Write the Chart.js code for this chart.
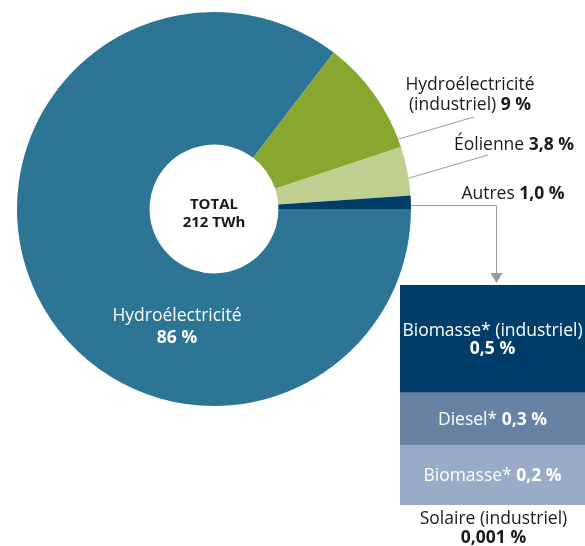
<!DOCTYPE html>
<html>
<head>
<meta charset="utf-8">
<script src="https://cdn.jsdelivr.net/npm/chart.js@4"></script>
<style>
  body { margin: 0; background: #fff; }
  #wrap { position: relative; width: 585px; height: 546px; }
  canvas { position: absolute; }
</style>
</head>
<body>
<div id="wrap">
  <canvas id="pie" width="585" height="546" style="left:0;top:0"></canvas>
  <canvas id="detail" width="185" height="261" style="left:400px;top:285px"></canvas>
</div>
<script>
// parts de la production (%)
const pieCategories = ["Hydroélectricité", "Hydroélectricité (industriel)", "Éolienne", "Autres"];
const pieShares = [85.4, 9.5, 4.0, 1.1];
const pieLabels = ["86 %", "9 %", "3,8 %", "1,0 %"];
const pieColors = ["#2c7594", "#87a72f", "#bfcf90", "#003e69"];

// détail de « Autres » (du bas vers le haut)
const autresCategories = ["Solaire (industriel)", "Biomasse*", "Diesel*", "Biomasse* (industriel)"];
const autresShares = [0.001, 0.27, 0.24, 0.49];
const autresLabels = ["0,001 %", "0,2 %", "0,3 %", "0,5 %"];
const autresColors = ["#9aabc7", "#9aabc7", "#6882a4", "#003e69"];

const totalText = ["TOTAL", "212 TWh"];

const FONT = "'Open Sans', sans-serif";
const SIZE = 17.5;
const DARK = "#1a1a1a";
const GREY = "#9a9a9a";

// texte en plusieurs morceaux (normal / gras), centré sur x
function runs(ctx, parts, x, y, size, color) {
  ctx.textBaseline = "alphabetic";
  ctx.textAlign = "left";
  ctx.fillStyle = color;
  let w = 0;
  parts.forEach(p => {
    ctx.font = (p.b ? "bold " : "") + size + "px " + FONT;
    p.w = ctx.measureText(p.t).width;
    w += p.w;
  });
  let cx = x - w / 2;
  parts.forEach(p => {
    ctx.font = (p.b ? "bold " : "") + size + "px " + FONT;
    ctx.fillText(p.t, cx, y);
    cx += p.w;
  });
}

function edgePoint(arc, t) {
  const a = arc.startAngle + (arc.endAngle - arc.startAngle) * t;
  return { x: arc.x + arc.outerRadius * Math.cos(a), y: arc.y + arc.outerRadius * Math.sin(a) };
}

const pieText = {
  id: "pieText",
  afterDraw(chart) {
    const ctx = chart.ctx;
    const arcs = chart.getDatasetMeta(0).data;
    ctx.save();

    // traits de rappel
    ctx.strokeStyle = GREY;
    ctx.lineWidth = 1;
    let p = edgePoint(arcs[1], 0.93);
    ctx.beginPath(); ctx.moveTo(p.x, p.y); ctx.lineTo(474, 117); ctx.stroke();
    p = edgePoint(arcs[2], 0.65);
    ctx.beginPath(); ctx.moveTo(p.x, p.y); ctx.lineTo(488, 155); ctx.stroke();
    p = edgePoint(arcs[3], 0.7);
    ctx.beginPath(); ctx.moveTo(p.x, 205.5); ctx.lineTo(496.5, 205.5); ctx.lineTo(496.5, 274); ctx.stroke();
    ctx.fillStyle = GREY;
    ctx.beginPath(); ctx.moveTo(490.5, 273); ctx.lineTo(502.5, 273); ctx.lineTo(496.5, 283); ctx.closePath(); ctx.fill();

    // étiquettes
    runs(ctx, [{ t: "Hydroélectricité" }], 470, 90, SIZE, DARK);
    runs(ctx, [{ t: "(industriel) " }, { t: pieLabels[1], b: true }], 470, 110, SIZE, DARK);
    runs(ctx, [{ t: pieCategories[2] + " " }, { t: pieLabels[2], b: true }], 514, 150, SIZE, DARK);
    runs(ctx, [{ t: pieCategories[3] + " " }, { t: pieLabels[3], b: true }], 513, 199, SIZE, DARK);
    runs(ctx, [{ t: pieCategories[0] }], 177, 321, SIZE, "#fff");
    runs(ctx, [{ t: pieLabels[0], b: true }], 177, 343, SIZE, "#fff");

    runs(ctx, [{ t: totalText[0], b: true }], arcs[0].x, 209, 15, DARK);
    runs(ctx, [{ t: totalText[1], b: true }], arcs[0].x, 227, 15, DARK);
    ctx.restore();
  }
};

new Chart(document.getElementById("pie"), {
  type: "doughnut",
  data: {
    labels: pieCategories,
    datasets: [{
      data: pieShares,
      backgroundColor: pieColors,
      borderWidth: 0,
      hoverOffset: 0
    }]
  },
  options: {
    responsive: false,
    animation: false,
    rotation: 90,
    cutout: "32.7%",
    layout: { padding: { left: 17, top: 12, right: 174, bottom: 140 } },
    plugins: { legend: { display: false }, tooltip: { enabled: false } }
  },
  plugins: [pieText]
});

const barText = {
  id: "barText",
  afterDraw(chart) {
    const ctx = chart.ctx;
    const cx = (chart.chartArea.left + chart.chartArea.right) / 2;
    const bar = i => chart.getDatasetMeta(i).data[0];
    ctx.save();
    let b = bar(3);
    runs(ctx, [{ t: autresCategories[3] }], cx, (b.y + b.base) / 2 - 3, SIZE, "#fff");
    runs(ctx, [{ t: autresLabels[3], b: true }], cx, (b.y + b.base) / 2 + 15, SIZE, "#fff");
    b = bar(2);
    runs(ctx, [{ t: autresCategories[2] + " " }, { t: autresLabels[2], b: true }], cx, (b.y + b.base) / 2 + 6, SIZE, "#fff");
    b = bar(1);
    runs(ctx, [{ t: autresCategories[1] + " " }, { t: autresLabels[1], b: true }], cx, (b.y + b.base) / 2 + 6, SIZE, "#fff");
    const bottom = chart.chartArea.bottom;
    runs(ctx, [{ t: autresCategories[0] }], cx + 1, bottom + 19, SIZE, DARK);
    runs(ctx, [{ t: autresLabels[0], b: true }], cx + 1, bottom + 38, SIZE, DARK);
    ctx.restore();
  }
};

new Chart(document.getElementById("detail"), {
  type: "bar",
  data: {
    labels: ["Autres"],
    datasets: autresCategories.map((c, i) => ({
      label: c,
      data: [autresShares[i]],
      backgroundColor: autresColors[i],
      borderWidth: 0,
      barPercentage: 1,
      categoryPercentage: 1
    }))
  },
  options: {
    responsive: false,
    animation: false,
    layout: { padding: { left: 0, top: 0, right: 0, bottom: 41 } },
    scales: {
      x: { display: false, stacked: true },
      y: { display: false, stacked: true, min: 0, max: autresShares.reduce((a, v) => a + v, 0) }
    },
    plugins: { legend: { display: false }, tooltip: { enabled: false } }
  },
  plugins: [barText]
});
</script>
</body>
</html>
